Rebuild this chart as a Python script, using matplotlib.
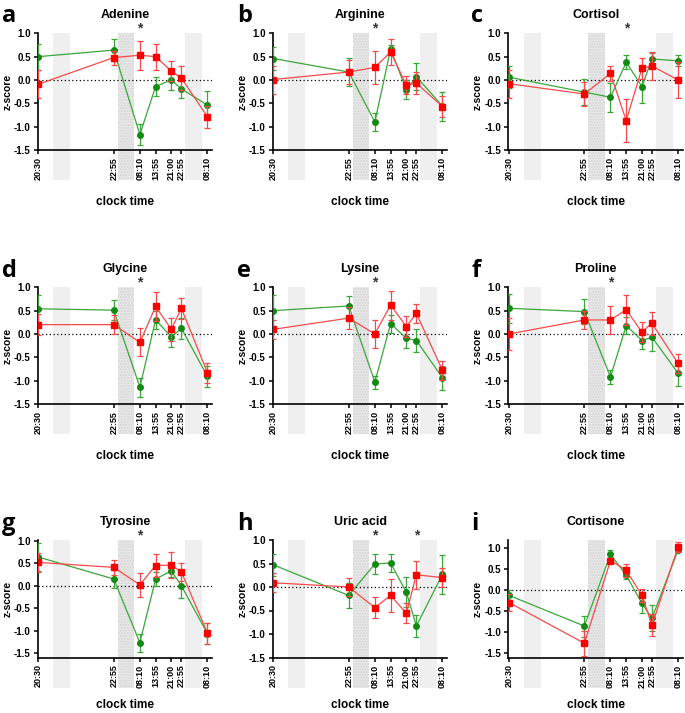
import numpy as np
import matplotlib
matplotlib.use("Agg")
from matplotlib import pyplot as plt

plt.rcParams['font.family'] = ['Liberation Sans', 'DejaVu Sans']
plt.rcParams['font.weight'] = 'bold'

# sampling positions on the time axis (hours after the first sample, as drawn)
times = [0.0, 26.59, 35.80, 41.36, 46.91, 50.45, 59.67]
time_labels = ["20:30", "22:55", "08:10", "13:55", "21:00", "22:55", "08:10"]

# sleep periods (same units); second one is drawn stippled
sleep = [(5.2, 11.2), (28.0, 33.8), (51.8, 57.8)]

letters = ["a", "b", "c", "d", "e", "f", "g", "h", "i"]
names = ["Adenine", "Arginine", "Cortisol", "Glycine", "Lysine", "Proline",
         "Tyrosine", "Uric acid", "Cortisone"]

green_mean = {
    "Adenine":   [0.50, 0.64, -1.17, -0.14, 0.00, -0.19, -0.54],
    "Arginine":  [0.46, 0.17, -0.90, 0.66, -0.21, 0.07, -0.56],
    "Cortisol":  [0.06, -0.26, -0.37, 0.38, -0.14, 0.45, 0.41],
    "Glycine":   [0.54, 0.51, -1.14, 0.30, -0.06, 0.12, -0.91],
    "Lysine":    [0.50, 0.60, -1.03, 0.22, -0.09, -0.14, -0.94],
    "Proline":   [0.55, 0.48, -0.92, 0.18, -0.14, -0.07, -0.84],
    "Tyrosine":  [0.64, 0.15, -1.27, 0.15, 0.33, 0.00, -1.07],
    "Uric acid": [0.47, -0.18, 0.49, 0.51, -0.11, -0.83, 0.27],
    "Cortisone": [-0.12, -0.85, 0.86, 0.36, -0.31, -0.66, 0.96],
}
green_err = {
    "Adenine":   [0.28, 0.23, 0.22, 0.20, 0.22, 0.20, 0.30],
    "Arginine":  [0.25, 0.30, 0.20, 0.10, 0.20, 0.29, 0.31],
    "Cortisol":  [0.23, 0.28, 0.31, 0.15, 0.35, 0.12, 0.12],
    "Glycine":   [0.29, 0.22, 0.20, 0.19, 0.22, 0.23, 0.23],
    "Lysine":    [0.34, 0.22, 0.14, 0.19, 0.22, 0.24, 0.26],
    "Proline":   [0.31, 0.26, 0.15, 0.19, 0.18, 0.29, 0.27],
    "Tyrosine":  [0.31, 0.20, 0.20, 0.16, 0.14, 0.27, 0.23],
    "Uric acid": [0.24, 0.26, 0.22, 0.20, 0.32, 0.23, 0.41],
    "Cortisone": [0.14, 0.25, 0.09, 0.08, 0.23, 0.31, 0.05],
}
red_mean = {
    "Adenine":   [-0.09, 0.48, 0.53, 0.50, 0.19, 0.04, -0.79],
    "Arginine":  [0.01, 0.17, 0.27, 0.60, -0.11, -0.07, -0.57],
    "Cortisol":  [-0.08, -0.30, 0.14, -0.87, 0.25, 0.30, 0.00],
    "Glycine":   [0.20, 0.20, -0.18, 0.59, 0.10, 0.55, -0.83],
    "Lysine":    [0.10, 0.34, 0.00, 0.62, 0.16, 0.44, -0.78],
    "Proline":   [0.00, 0.30, 0.30, 0.52, 0.04, 0.23, -0.63],
    "Tyrosine":  [0.52, 0.41, 0.02, 0.45, 0.46, 0.31, -1.06],
    "Uric acid": [0.09, 0.00, -0.44, -0.18, -0.56, 0.26, 0.20],
    "Cortisone": [-0.29, -1.26, 0.71, 0.48, -0.12, -0.83, 1.04],
}
red_err = {
    "Adenine":   [0.30, 0.15, 0.31, 0.28, 0.22, 0.26, 0.23],
    "Arginine":  [0.30, 0.25, 0.35, 0.27, 0.20, 0.24, 0.22],
    "Cortisol":  [0.30, 0.25, 0.16, 0.46, 0.23, 0.30, 0.38],
    "Glycine":   [0.22, 0.20, 0.30, 0.32, 0.25, 0.22, 0.21],
    "Lysine":    [0.20, 0.24, 0.31, 0.31, 0.23, 0.21, 0.20],
    "Proline":   [0.34, 0.20, 0.29, 0.32, 0.22, 0.25, 0.21],
    "Tyrosine":  [0.21, 0.17, 0.27, 0.25, 0.29, 0.20, 0.24],
    "Uric acid": [0.20, 0.19, 0.22, 0.36, 0.21, 0.30, 0.21],
    "Cortisone": [0.20, 0.30, 0.06, 0.16, 0.15, 0.26, 0.12],
}

# index of time points marked with a star
stars = {"Adenine": [2], "Arginine": [2], "Cortisol": [3], "Glycine": [2],
         "Lysine": [2], "Proline": [2], "Tyrosine": [2], "Uric acid": [2, 5]}

ylims = {"Tyrosine": (-1.6, 1.02), "Cortisone": (-1.6, 1.2)}

W, H = 685, 713
fig = plt.figure(figsize=(W / 100, H / 100), dpi=100)

col_left = [37.7, 272.7, 508.3]
ax_w = 174.7
row_top = [33.3, 287.3, 540.0]
row_bot = [150.0, 404.0, 657.5]
xlabel_gap = [52, 52, 47]

for k, name in enumerate(names):
    r, c = divmod(k, 3)
    left = col_left[c] / W
    bottom = 1 - row_bot[r] / H
    height = (row_bot[r] - row_top[r]) / H
    ax = fig.add_axes([left, bottom, ax_w / W, height])
    ax_h_px = row_bot[r] - row_top[r]

    ylo, yhi = ylims.get(name, (-1.5, 1.0))
    ax.set_ylim(ylo, yhi)
    ax.set_xlim(-0.25, 61.4)

    # sleep bands, running down past the axis
    trans = ax.get_xaxis_transform()
    ext = -30 / ax_h_px
    for i, (s0, s1) in enumerate(sleep):
        if i == 1:
            ax.fill_between([s0, s1], [ext, ext], [1, 1], transform=trans,
                            facecolor='#e9e9e9', edgecolor='#d4d4d4', hatch='......',
                            linewidth=0, clip_on=False, zorder=0)
        else:
            ax.fill_between([s0, s1], [ext, ext], [1, 1], transform=trans,
                            facecolor='#efefef', linewidth=0, clip_on=False, zorder=0)

    ax.axhline(0, color='black', linestyle=(0, (1, 2)), linewidth=0.9, zorder=1)

    ax.errorbar(times, green_mean[name], yerr=green_err[name], color='#3aa63a',
                linewidth=0.9, elinewidth=0.9, capsize=2.5, capthick=0.9,
                marker='o', markersize=4, markerfacecolor='#138a13',
                markeredgecolor='#138a13', zorder=3)
    ax.errorbar(times, red_mean[name], yerr=red_err[name], color='#f54a4a',
                linewidth=0.9, elinewidth=0.9, capsize=2.5, capthick=0.9,
                marker='s', markersize=4, markerfacecolor='#ff0000',
                markeredgecolor='#ff0000', zorder=4)

    for s in stars.get(name, []):
        ax.text(times[s], 1 + 5 / ax_h_px, "*", transform=trans, ha='center',
                va='center', fontsize=10, color='#333333')

    ax.set_xticks(times)
    ax.set_xticklabels(time_labels, rotation=90, fontsize=6.5, fontweight='bold')
    ax.set_yticks(np.arange(-1.5, 1.01, 0.5))
    ax.set_yticklabels([f"{v:.1f}" for v in np.arange(-1.5, 1.01, 0.5)],
                       fontsize=7, fontweight='bold')
    ax.tick_params(length=3, width=1.1, pad=2)
    for sp in ['top', 'right']:
        ax.spines[sp].set_visible(False)
    for sp in ['left', 'bottom']:
        ax.spines[sp].set_linewidth(1.2)

    ax.text(0.5, 1 + 18 / ax_h_px, name, transform=ax.transAxes, ha='center',
            va='center', fontsize=9, fontweight='bold')
    ax.text(0.5, -xlabel_gap[r] / ax_h_px, "clock time", transform=ax.transAxes,
            ha='center', va='center', fontsize=8.5, fontweight='bold')
    ax.text(-30.5 / ax_w, 0.5, "z-score", transform=ax.transAxes, ha='center',
            va='center', rotation=90, fontsize=7.5, fontweight='bold')

letter_x = [2, 237, 471]
letter_base = [21.7, 276.7, 530.0]
for k, let in enumerate(letters):
    r, c = divmod(k, 3)
    fig.text(letter_x[c] / W, 1 - letter_base[r] / H, let, ha='left',
             va='baseline', fontsize=17, fontweight='bold',
             family=['Open Sans', 'DejaVu Sans'])

fig.savefig("out.png", dpi=100)
